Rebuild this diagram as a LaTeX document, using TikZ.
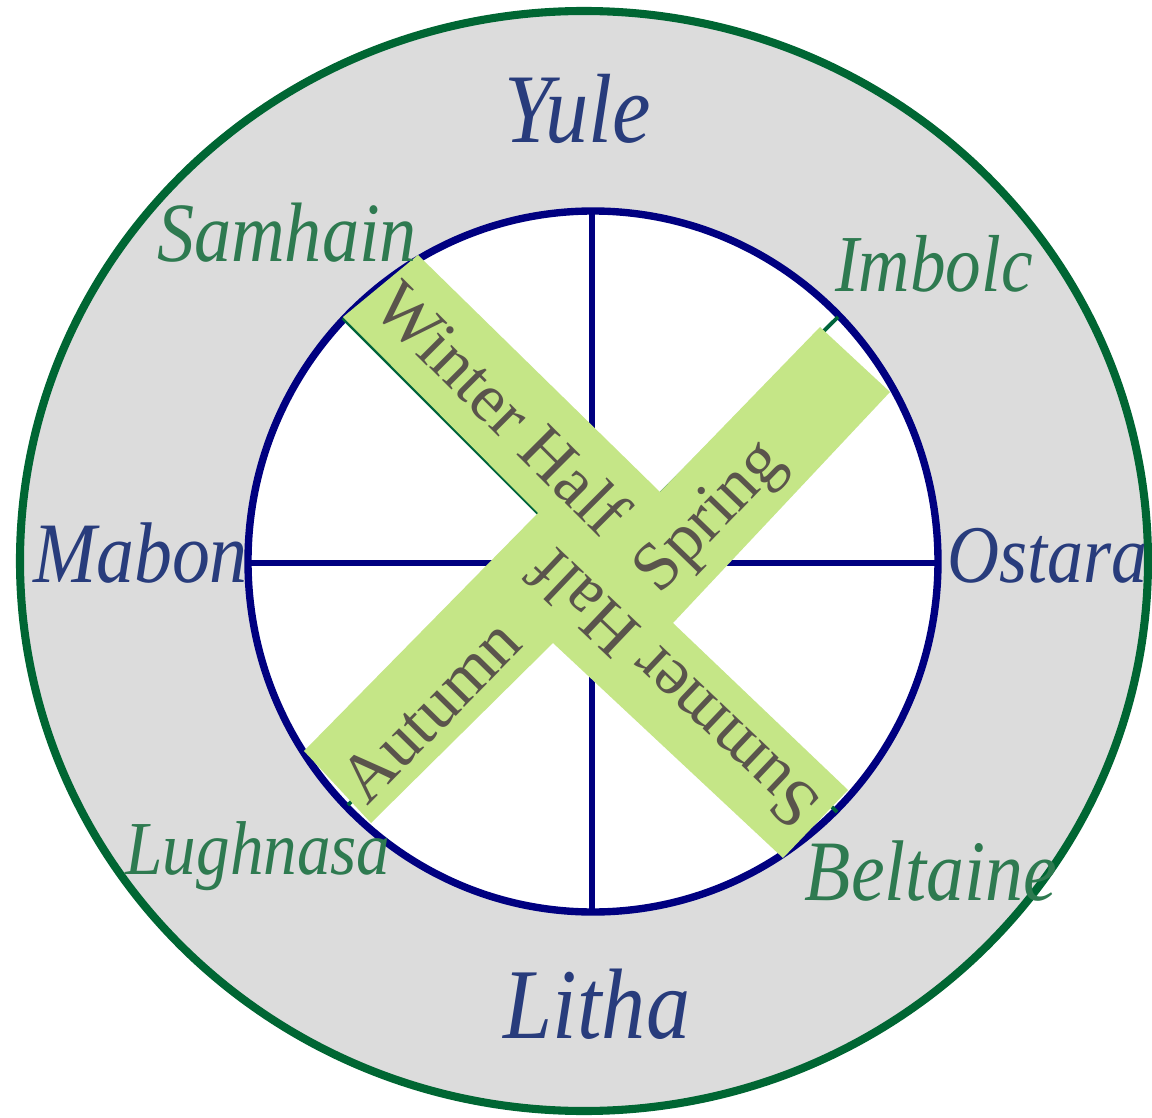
\documentclass[tikz,border=0pt]{standalone}
\usepackage{fontspec}
\setmainfont{Liberation Serif}
\newfontfamily\sabbatfont{Liberation Serif}[FakeStretch=0.88]
\usepackage{tikz}
\usetikzlibrary{positioning, calc}
\definecolor{RimGreen}{HTML}{006633}
\definecolor{RingGray}{HTML}{DCDCDC}
\definecolor{WheelNavy}{HTML}{000080}
\definecolor{SpokeGreen}{HTML}{00643C}
\definecolor{BandGreen}{HTML}{C5E687}
\definecolor{BandText}{HTML}{5A544C}
\definecolor{SolarBlue}{HTML}{283C7C}
\definecolor{CrossGreen}{HTML}{2E7A50}

\begin{document}
\begin{tikzpicture}[scale=1.0,
        solar/.style={anchor=base, text=SolarBlue, font=\sabbatfont\itshape\fontsize{24.5}{28}\selectfont},
        cross/.style={anchor=base, text=CrossGreen, font=\sabbatfont\itshape\fontsize{24}{28}\selectfont},
        season/.style={text=BandText, inner sep=0pt, font=\fontsize{19.5}{23}\selectfont}]
        % Frame of the picture
        \useasboundingbox (-5.76, -5.585) rectangle (5.76, 5.585);

        % Outer grey ring with green rim
        \draw[fill=RingGray, draw=RimGreen, line width=2.3pt] 
            (0.08, -0.025) ellipse [x radius=5.64, y radius=5.50];

        % Inner white wheel with navy rim
        \draw[fill=white, draw=WheelNavy, line width=2.1pt] 
            (0.17, -0.03) ellipse [x radius=3.45, y radius=3.505];

        % Quarter spokes (solstices and equinoxes)
        \draw[color=WheelNavy, line width=1.5pt] (0.16, 3.475) -- (0.16, -3.535);
        \draw[color=WheelNavy, line width=1.5pt] (-3.27, -0.045) -- (3.63, -0.045);

        % Cross-quarter spokes
        \draw[color=SpokeGreen, line width=1.1pt] (-2.33, 2.405) -- (2.61, -2.535);
        \draw[color=SpokeGreen, line width=1.1pt] (2.62, 2.415) -- (-2.28, -2.465);

        % Pinwheel of the four season bands
        \fill[BandGreen] 
            (-1.58, 3.035) -- (0.84, 0.665) -- (2.44, 2.315) -- (3.14, 1.665)
            -- (0.97, -0.645) -- (2.72, -2.315) -- (2.07, -2.995) -- (-0.23, -0.845)
            -- (-2.05, -2.645) -- (-2.72, -1.925) -- (-0.38, 0.455) -- (-2.33, 2.415) -- cycle;

        % Season labels on the bands
        \node[season, rotate=-45] (winter) at (-0.73, 1.505) {Winter Half};
        \node[season, rotate=136.5] (summer) at (0.97, -1.315) {Summer Half};
        \node[season, rotate=46] (spring) at (1.36, 0.395) {Spring};
        \node[season, rotate=45.5] (autumn) at (-1.46, -1.525) {Autumn};

        % Solstices and equinoxes
        \node[solar, font=\sabbatfont\itshape\fontsize{28}{31}\selectfont] (yule) at (0.02, 4.155) {Yule};
        \node[solar, font=\sabbatfont\itshape\fontsize{28.5}{31}\selectfont] (litha) at (0.21, -4.795) {Litha};
        \node[solar] (mabon) at (-4.355, -0.235) {Mabon};
        \node[solar, font=\sabbatfont\itshape\fontsize{23.3}{28}\selectfont] (ostara) at (4.715, -0.235) {Ostara};

        % Cross-quarter days
        \node[cross] (samhain) at (-2.89, 2.965) {Samhain};
        \node[cross, font=\sabbatfont\itshape\fontsize{23}{28}\selectfont] (imbolc) at (3.58, 2.665) {Imbolc};
        \node[cross, font=\sabbatfont\itshape\fontsize{21.7}{26}\selectfont] (lughnasa) at (-3.18, -3.155) {Lughnasa};
        \node[cross, font=\sabbatfont\itshape\fontsize{24.5}{28}\selectfont] (beltaine) at (3.55, -3.415) {Beltaine};
    \end{tikzpicture}
\end{document}
